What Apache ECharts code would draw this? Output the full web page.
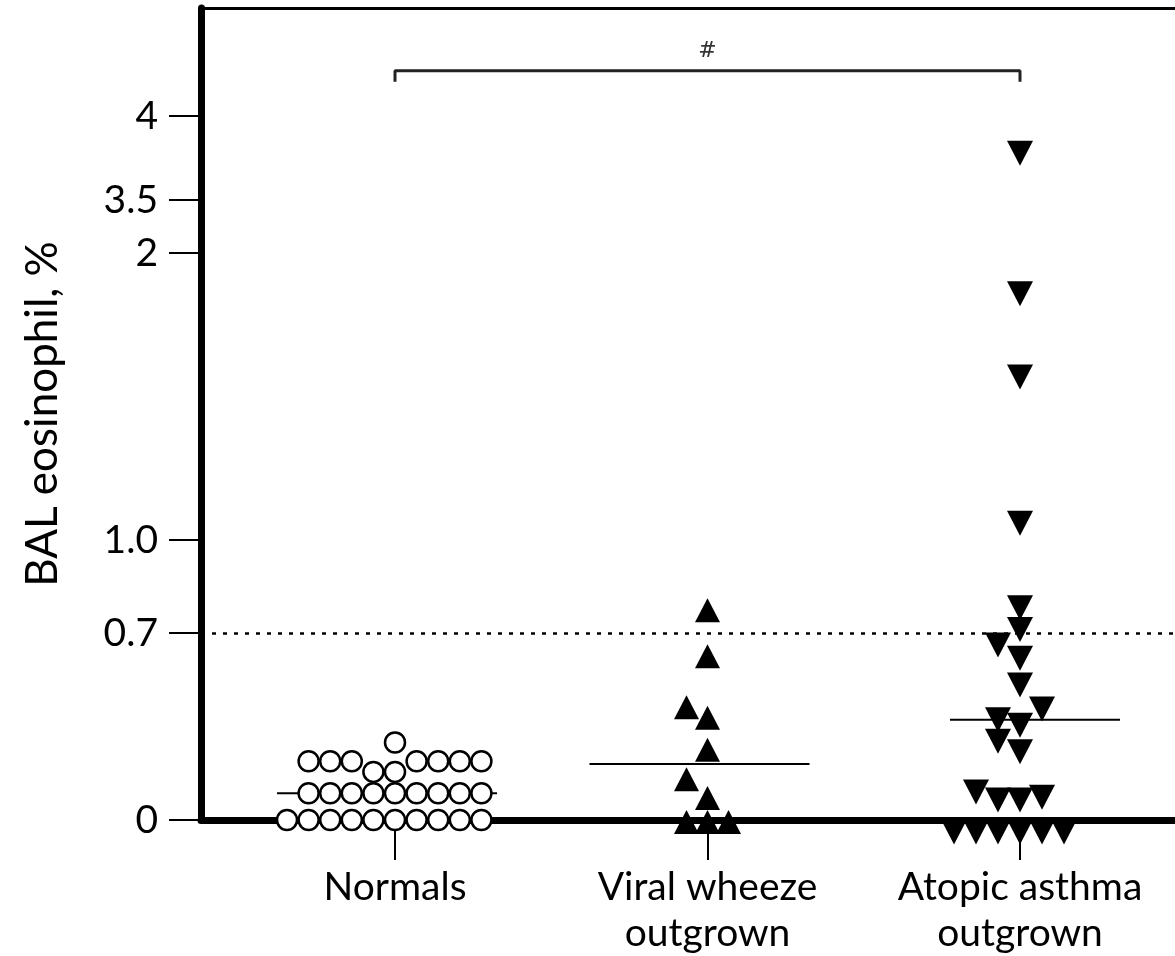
<!DOCTYPE html>
<html>
<head>
<meta charset="utf-8">
<script src="https://cdn.jsdelivr.net/npm/echarts@6/dist/echarts.min.js"></script>
<style>
  html, body { margin: 0; padding: 0; background: #fff; }
  #chart { width: 1175px; height: 956px; }
</style>
</head>
<body>
<div id="chart"></div>
<script>
// groups on the x axis
const groups = ['Normals', 'Viral wheeze\noutgrown', 'Atopic asthma\noutgrown'];

// BAL eosinophil % per subject
const normals = [0, 0, 0, 0, 0, 0, 0, 0, 0, 0,
  0.10, 0.10, 0.10, 0.10, 0.10, 0.10, 0.10, 0.10, 0.10,
  0.18, 0.18,
  0.22, 0.22, 0.22, 0.22, 0.22, 0.22, 0.22,
  0.29];
const viral = [0.78, 0.62, 0.43, 0.39, 0.27, 0.16, 0.09, 0, 0, 0];
const atopic = [3.85, 1.90, 1.61, 1.10, 0.82, 0.75, 0.70, 0.65, 0.55, 0.46,
  0.42, 0.40, 0.34, 0.30, 0.15, 0.12, 0.12, 0.13, 0, 0, 0, 0, 0, 0];
const medians = [0.10, 0.21, 0.375];

// broken y scale: tick values and where they sit (px above the x axis)
const yTickValues = [0, 0.7, 1.0, 2, 3.5, 4];
const yTickLabels = ['0', '0.7', '1.0', '2', '3.5', '4'];
const yTickPos = [0, 187, 280, 567, 620, 704];
const cutoff = 0.7;
const bracketLevel = 4.27;

const FONT = 'Lato';
const gridLeft = 201, gridW = 974, gridTop = 8, gridH = 812;
const xMin = 0.3792, xMax = 3.496;
const pxPerX = gridW / (xMax - xMin);

function disp (v) {
  let i = 0;
  while (i < yTickValues.length - 2 && v > yTickValues[i + 1]) i++;
  const v0 = yTickValues[i], v1 = yTickValues[i + 1];
  const p0 = yTickPos[i], p1 = yTickPos[i + 1];
  return p0 + (v - v0) * (p1 - p0) / (v1 - v0);
}

// simple beeswarm: lowest values first, slots 0, -1, +1, -2, +2 ...
function swarm (vals, center, step, minDy) {
  const pts = vals.map(v => ({ d: disp(v) })).sort((a, b) => a.d - b.d);
  const placed = [];
  pts.forEach(p => {
    for (let k = 0; k < 100; k++) {
      const o = k === 0 ? 0 : (k % 2 ? -Math.ceil(k / 2) : k / 2);
      if (!placed.some(q => q.o === o && Math.abs(q.d - p.d) < minDy)) {
        p.o = o
        placed.push(p)
        break
      }
    }
  });
  return placed.map(p => [center + p.o * step / pxPerX, p.d]);
}

const medianSpan = [[118, 102], [118, 102], [70, 100]];
const medianSeries = medians.map((m, i) => ({
  type: 'line',
  z: 1,
  silent: true,
  symbol: 'none',
  lineStyle: { color: '#000', width: 2 },
  data: [[i + 1 - medianSpan[i][0] / pxPerX, disp(m)], [i + 1 + medianSpan[i][1] / pxPerX, disp(m)]]
}));

const bl = disp(bracketLevel);

const option = {
  animation: false,
  grid: { left: gridLeft, top: gridTop, width: gridW, height: gridH },
  xAxis: [
    {
      type: 'value',
      min: xMin,
      max: xMax,
      splitLine: { show: false },
      axisLine: { show: true, lineStyle: { color: '#000', width: 7 } },
      axisTick: { show: true, customValues: [1, 2, 3], length: 40, lineStyle: { color: '#000', width: 2 } },
      axisLabel: {
        customValues: [1, 2, 3],
        formatter: v => groups[Math.round(v) - 1],
        margin: 44,
        color: '#000',
        fontFamily: FONT,
        fontSize: 39,
        lineHeight: 46
      }
    },
    {
      type: 'value',
      position: 'top',
      min: xMin,
      max: xMax,
      splitLine: { show: false },
      axisLine: { show: true, lineStyle: { color: '#000', width: 3 } },
      axisTick: { show: false },
      axisLabel: { show: false }
    }
  ],
  yAxis: {
    type: 'value',
    min: 0,
    max: gridH,
    name: 'BAL eosinophil, %',
    nameLocation: 'middle',
    nameRotate: 90,
    nameGap: 136,
    nameTextStyle: { color: '#000', fontFamily: FONT, fontSize: 44 },
    splitLine: { show: false },
    axisLine: { show: true, lineStyle: { color: '#000', width: 7 } },
    axisTick: { show: true, customValues: yTickPos, length: 32, lineStyle: { color: '#000', width: 2 } },
    axisLabel: {
      customValues: yTickPos,
      formatter: v => {
        let best = 0
        yTickPos.forEach((p, i) => { if (Math.abs(p - v) < Math.abs(yTickPos[best] - v)) best = i })
        return yTickLabels[best]
      },
      margin: 43,
      color: '#000',
      fontFamily: FONT,
      fontSize: 39
    }
  },
  series: [
    ...medianSeries,
    {
      type: 'line',
      z: 1,
      silent: true,
      symbol: 'none',
      lineStyle: { color: '#222', width: 3 },
      data: [[1, bl - 11], [1, bl], [3, bl], [3, bl - 11]],
      markLine: {
        silent: true,
        symbol: 'none',
        label: { show: false },
        lineStyle: { color: '#000', width: 2.5, type: [4, 7] },
        data: [{ yAxis: disp(cutoff) }]
      }
    },
    {
      type: 'scatter',
      silent: true,
      symbolSize: 0,
      data: [[2, bl]],
      label: { show: true, formatter: '#', position: 'top', distance: 8, color: '#000', fontFamily: 'DejaVu Serif', fontStyle: 'italic', fontSize: 22 }
    },
    {
      name: 'Normals',
      type: 'scatter',
      z: 3,
      clip: false,
      symbol: 'circle',
      symbolSize: 20,
      itemStyle: { color: '#fff', borderColor: '#000', borderWidth: 2.5, opacity: 1 },
      data: swarm(normals, 1, 21.6, 18)
    },
    {
      name: 'Viral wheeze outgrown',
      type: 'scatter',
      z: 3,
      clip: false,
      symbol: 'triangle',
      symbolSize: [25, 24],
      symbolOffset: [0, 2],
      itemStyle: { color: '#000', opacity: 1 },
      data: swarm(viral, 2, 21, 20)
    },
    {
      name: 'Atopic asthma outgrown',
      type: 'scatter',
      z: 3,
      clip: false,
      symbol: 'path://M0 0 L10 0 L5 10 Z',
      symbolSize: [26, 25],
      symbolOffset: [0, 12],
      itemStyle: { color: '#000', opacity: 1 },
      data: swarm(atopic, 3, 22, 20)
    }
  ]
};

const chart = echarts.init(document.getElementById('chart'));
chart.setOption(option);
window.addEventListener('resize', () => chart.resize());
</script>
</body>
</html>
